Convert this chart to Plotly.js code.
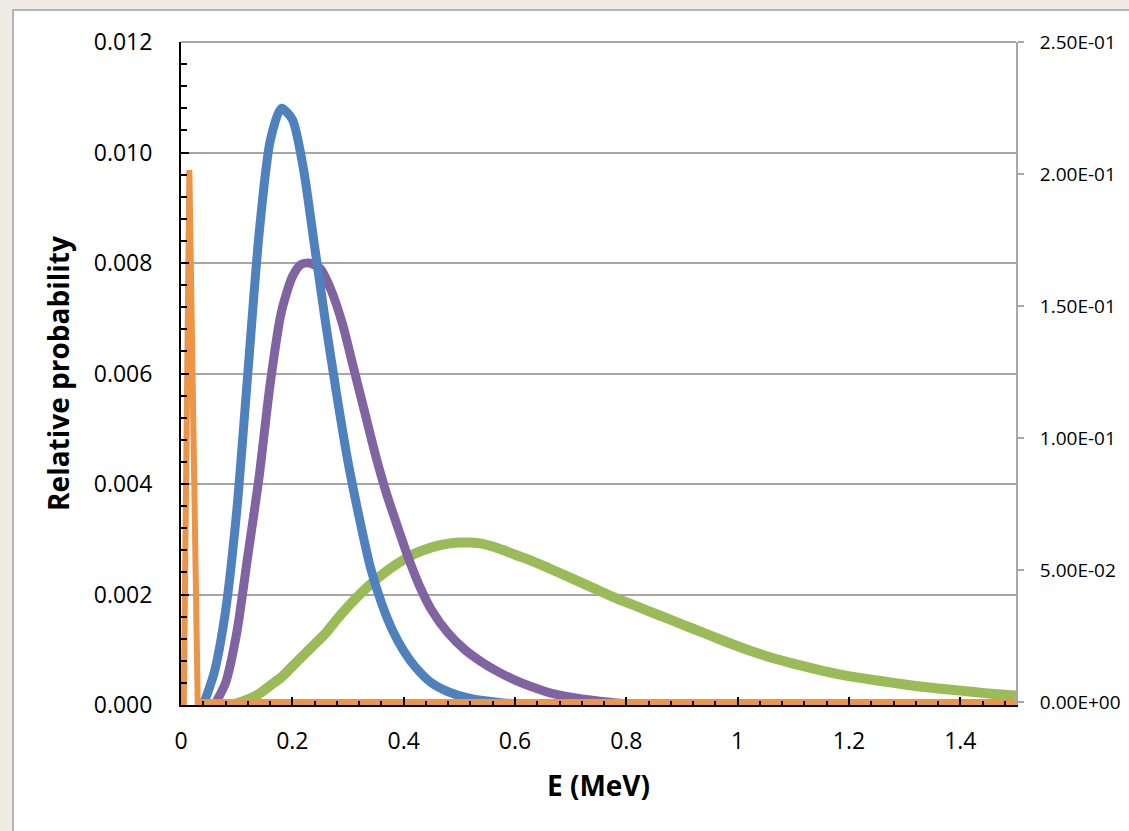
<!DOCTYPE html>
<html>
<head>
<meta charset="utf-8">
<script src="https://cdn.plot.ly/plotly-3.0.1.min.js"></script>
<style>
html,body{margin:0;padding:0;background:#efece6;}
#chart{width:1129px;height:831px;}
</style>
</head>
<body>
<div id="chart"></div>
<script>
// Blue series (primary axis)
const blueE = [0.04,0.06,0.08,0.10,0.12,0.14,0.16,0.18,0.20,0.22,0.24,0.26,0.28,0.30,0.32,0.34,0.36,0.38,0.40,0.42,0.45,0.48,0.52,0.56,0.60,0.65];
const blueP = [0,0.0006,0.0017,0.0035,0.0060,0.0085,0.0102,0.0108,0.0106,0.0097,0.0083,0.0069,0.0056,0.0044,0.0034,0.0025,0.00185,0.00135,0.00098,0.0007,0.0004,0.00024,0.00012,0.00006,0.00002,0];

// Purple series (primary axis)
const purpleE = [0.06,0.08,0.10,0.12,0.14,0.16,0.18,0.20,0.215,0.23,0.25,0.27,0.29,0.31,0.33,0.35,0.37,0.39,0.41,0.43,0.45,0.48,0.51,0.54,0.57,0.60,0.63,0.67,0.72,0.77,0.82];
const purpleP = [0,0.0004,0.0013,0.0027,0.0041,0.0058,0.0071,0.00775,0.00797,0.0080,0.0079,0.0075,0.0069,0.0061,0.0053,0.0045,0.0038,0.0032,0.00262,0.00212,0.00172,0.0013,0.0010,0.00078,0.0006,0.00045,0.00033,0.0002,0.00011,0.00005,0];

// Green series (primary axis)
const greenE = [0.08,0.10,0.12,0.14,0.16,0.18,0.20,0.22,0.24,0.26,0.28,0.30,0.32,0.34,0.36,0.38,0.40,0.42,0.44,0.46,0.48,0.50,0.52,0.54,0.56,0.58,0.60,0.63,0.66,0.70,0.74,0.78,0.82,0.86,0.90,0.94,0.98,1.02,1.06,1.10,1.14,1.18,1.22,1.26,1.30,1.34,1.38,1.42,1.46,1.50];
const greenP = [0,0.00003,0.0001,0.0002,0.00035,0.0005,0.0007,0.0009,0.0011,0.0013,0.00155,0.00178,0.00199,0.00218,0.00235,0.0025,0.00263,0.00274,0.00282,0.00288,0.00292,0.00294,0.00294,0.00292,0.00287,0.0028,0.00272,0.00261,0.00248,0.0023,0.00212,0.00194,0.00178,0.00162,0.00146,0.0013,0.00114,0.00099,0.00086,0.00075,0.00065,0.00056,0.00049,0.00043,0.00037,0.00032,0.00028,0.00024,0.0002,0.00017];

// Orange series (secondary axis)
const orangeE = [0,0.005,0.015,0.03,0.05,1.5];
const orangeP = [0,0,0.2015,0,0,0];

// Axis ticks
const xTickVals = [0,0.2,0.4,0.6,0.8,1,1.2,1.4];
const xTickText = ["0","0.2","0.4","0.6","0.8","1","1.2","1.4"];
const yTickVals = [0,0.002,0.004,0.006,0.008,0.010,0.012];
const yTickText = ["0.000","0.002","0.004","0.006","0.008","0.010","0.012"];
const y2TickVals = [0,0.05,0.10,0.15,0.20,0.25];
const y2TickText = ["0.00E+00","5.00E-02","1.00E-01","1.50E-01","2.00E-01","2.50E-01"];

const traces = [
  {x: greenE, y: greenP, type:'scatter', mode:'lines', line:{color:'#9BBB59', width:10, shape:'spline', smoothing:0.7}, yaxis:'y', showlegend:false},
  {x: purpleE, y: purpleP, type:'scatter', mode:'lines', line:{color:'#8064A2', width:9, shape:'spline', smoothing:0.7}, yaxis:'y', showlegend:false},
  {x: blueE, y: blueP, type:'scatter', mode:'lines', line:{color:'#4F81BD', width:9, shape:'spline', smoothing:0.7}, yaxis:'y', showlegend:false},
  {x: orangeE, y: orangeP, type:'scatter', mode:'lines', line:{color:'#EC9447', width:6}, yaxis:'y2', showlegend:false}
];

const font = "'Open Sans', 'Liberation Sans', sans-serif";

const layout = {
  width: 1129, height: 831,
  margin: {l:181, r:113, t:42, b:126, pad:0},
  paper_bgcolor: '#efece6',
  plot_bgcolor: '#ffffff',
  font: {family: font, color:'#000000'},
  showlegend: false,
  xaxis: {
    range: [0, 1.5],
    tickvals: xTickVals, ticktext: xTickText,
    ticks: 'inside', ticklen: 8, tickwidth: 2, tickcolor: '#000000',
    minor: {dtick: 0.04, ticks:'inside', ticklen:4, tickwidth:2, tickcolor:'#000000', showgrid:false},
    showline: true, linecolor: '#000000', linewidth: 2,
    showgrid: false, zeroline: false,
    tickfont: {size: 23, family: font},
    ticklabelstandoff: 14,
    title: {text: '<b>E (MeV)</b>', font:{size:28, family: font}, standoff: 22}
  },
  yaxis: {
    range: [0, 0.012],
    tickvals: yTickVals, ticktext: yTickText,
    ticks: 'inside', ticklen: 8, tickwidth: 2, tickcolor: '#000000',
    minor: {dtick: 0.0004, ticks:'inside', ticklen:6, tickwidth:2, tickcolor:'#000000', showgrid:false},
    showline: true, linecolor: '#000000', linewidth: 2,
    showgrid: true, gridcolor: '#a6a6a6', gridwidth: 2,
    zeroline: false,
    tickfont: {size: 23, family: font},
    ticklabelstandoff: 22,
    title: {text: '<b>Relative probability</b>', font:{size:28, family: font}, standoff: 16}
  },
  yaxis2: {
    overlaying: 'y', side: 'right',
    range: [-0.0011, 0.25],
    tickvals: y2TickVals, ticktext: y2TickText,
    ticks: 'outside', ticklen: 6, tickwidth: 2, tickcolor: '#a6a6a6',
    showline: true, linecolor: '#a6a6a6', linewidth: 2,
    showgrid: false, zeroline: false,
    tickfont: {size: 19, family: font},
    ticklabelstandoff: 12
  },
  shapes: [
    {type:'rect', xref:'paper', yref:'paper', x0:-0.2012, x1:1.2, y0:-0.25, y1:1.0483,
     fillcolor:'#ffffff', line:{color:'#b4b4b4', width:2}, layer:'below'},
    {type:'line', xref:'paper', yref:'paper', x0:0, x1:1, y0:1, y1:1,
     line:{color:'#a6a6a6', width:2}, layer:'below'}
  ]
};

Plotly.newPlot('chart', traces, layout, {displayModeBar:false, staticPlot:true});
</script>
</body>
</html>
